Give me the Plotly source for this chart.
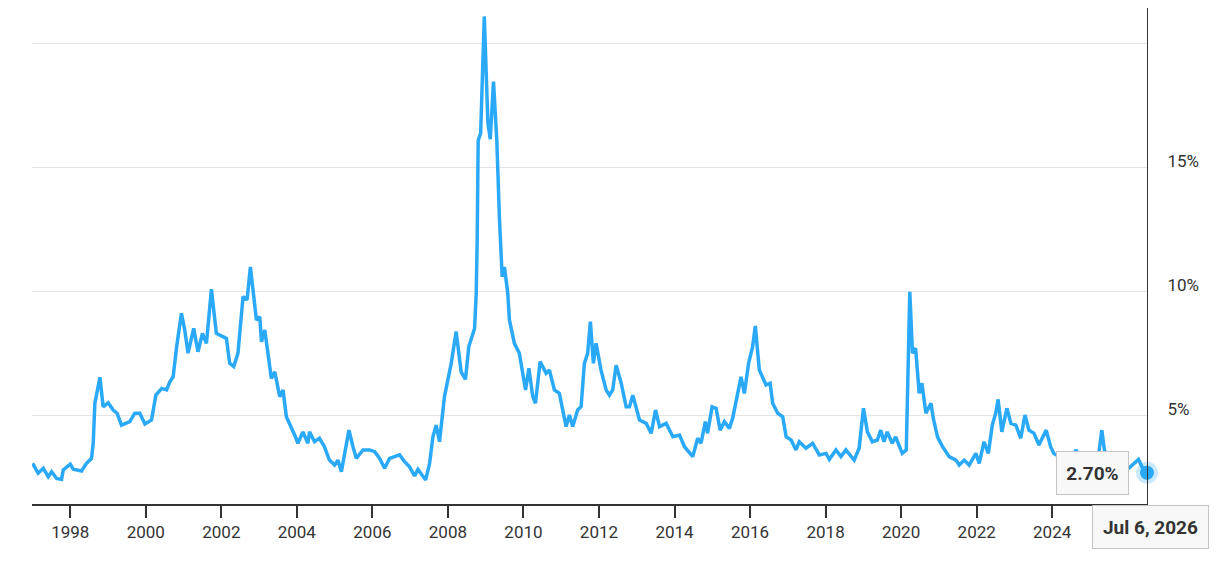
import plotly.graph_objects as go

dates = [
    "1997-01-03", "1997-02-24", "1997-04-15", "1997-06-02", "1997-07-05", "1997-08-22", "1997-10-09", "1997-10-25",
    "1998-01-01", "1998-01-30", "1998-04-20", "1998-06-07", "1998-07-26", "1998-08-11", "1998-08-27", "1998-10-15",
    "1998-11-15", "1999-01-03", "1999-02-20", "1999-03-30", "1999-05-11", "1999-07-31", "1999-09-17", "1999-11-04",
    "1999-12-24", "2000-02-26", "2000-04-08", "2000-06-03", "2000-07-20", "2000-08-21", "2000-09-22", "2000-10-24",
    "2000-12-11", "2001-01-12", "2001-02-13", "2001-04-09", "2001-05-20", "2001-07-02", "2001-08-10", "2001-09-27",
    "2001-11-14", "2002-02-19", "2002-03-23", "2002-05-01", "2002-06-11", "2002-07-04", "2002-07-30", "2002-09-07",
    "2002-10-09", "2002-12-06", "2003-01-08", "2003-01-24", "2003-02-25", "2003-04-30", "2003-06-02", "2003-07-20",
    "2003-08-21", "2003-09-22", "2003-10-24", "2003-12-11", "2004-01-12", "2004-02-29", "2004-04-17", "2004-05-03",
    "2004-06-20", "2004-08-07", "2004-09-24", "2004-11-11", "2005-01-01", "2005-02-02", "2005-03-07", "2005-05-19",
    "2005-06-27", "2005-07-29", "2005-10-02", "2005-12-05", "2006-01-23", "2006-03-12", "2006-04-29", "2006-06-16",
    "2006-09-21", "2006-11-08", "2006-12-26", "2007-02-13", "2007-03-17", "2007-05-31", "2007-07-08", "2007-08-09",
    "2007-09-10", "2007-10-12", "2007-11-29", "2008-02-02", "2008-03-21", "2008-05-08", "2008-06-19", "2008-07-21",
    "2008-09-15", "2008-10-01", "2008-10-10", "2008-10-20", "2008-11-13", "2008-12-18", "2009-01-22", "2009-02-14",
    "2009-03-17", "2009-04-18", "2009-05-14", "2009-06-09", "2009-07-01", "2009-08-02", "2009-08-18", "2009-10-05",
    "2009-11-22", "2010-01-21", "2010-02-22", "2010-04-01", "2010-04-27", "2010-06-11", "2010-08-08", "2010-09-09",
    "2010-10-27", "2010-12-14", "2011-02-17", "2011-03-21", "2011-04-22", "2011-06-09", "2011-07-12", "2011-08-13",
    "2011-09-14", "2011-10-10", "2011-11-08", "2011-12-04", "2012-01-21", "2012-03-10", "2012-04-11", "2012-05-13",
    "2012-06-15", "2012-08-03", "2012-09-20", "2012-10-22", "2012-11-23", "2013-01-27", "2013-04-02", "2013-05-20",
    "2013-07-01", "2013-08-09", "2013-10-12", "2013-12-16", "2014-02-18", "2014-04-07", "2014-06-26", "2014-08-13",
    "2014-09-14", "2014-10-26", "2014-11-17", "2014-12-30", "2015-02-07", "2015-03-18", "2015-04-28", "2015-06-15",
    "2015-07-17", "2015-09-03", "2015-10-06", "2015-11-07", "2015-12-18", "2016-01-26", "2016-02-21", "2016-03-31",
    "2016-06-04", "2016-07-13", "2016-08-07", "2016-09-25", "2016-11-12", "2016-12-15", "2017-02-01", "2017-03-20",
    "2017-04-21", "2017-06-25", "2017-08-28", "2017-11-01", "2018-01-05", "2018-02-06", "2018-04-11", "2018-05-29",
    "2018-07-16", "2018-10-04", "2018-11-21", "2019-01-02", "2019-02-09", "2019-03-29", "2019-05-16", "2019-06-18",
    "2019-07-19", "2019-08-20", "2019-10-07", "2019-11-09", "2020-01-12", "2020-02-20", "2020-03-25", "2020-04-20",
    "2020-05-20", "2020-06-24", "2020-07-20", "2020-08-28", "2020-10-16", "2020-11-07", "2020-12-18", "2021-02-05",
    "2021-04-10", "2021-06-14", "2021-07-16", "2021-09-02", "2021-10-20", "2021-12-24", "2022-01-25", "2022-03-13",
    "2022-04-23", "2022-06-01", "2022-07-04", "2022-07-27", "2022-09-01", "2022-10-20", "2022-11-28", "2023-01-15",
    "2023-03-03", "2023-04-13", "2023-05-21", "2023-07-09", "2023-08-26", "2023-11-04", "2023-12-17", "2024-01-17",
    "2024-04-01", "2024-06-15", "2024-08-20", "2024-10-15", "2025-01-10", "2025-03-15", "2025-04-25", "2025-05-20",
    "2025-07-15", "2025-10-15", "2026-01-15", "2026-04-15", "2026-05-18", "2026-07-06",
]

spread_pct = [
    3.08, 2.68, 2.88, 2.54, 2.74, 2.47, 2.43, 2.81,
    3.05, 2.84, 2.77, 3.08, 3.28, 3.89, 5.50, 6.55,
    5.36, 5.52, 5.23, 5.10, 4.62, 4.76, 5.10, 5.10,
    4.67, 4.83, 5.83, 6.10, 6.04, 6.37, 6.57, 7.72,
    9.13, 8.46, 7.52, 8.52, 7.58, 8.32, 7.92, 10.10,
    8.32, 8.12, 7.11, 6.98, 7.52, 8.73, 9.80, 9.67,
    11.00, 8.86, 8.99, 7.98, 8.46, 6.50, 6.77, 5.77,
    6.04, 4.96, 4.69, 4.22, 3.89, 4.35, 3.89, 4.35,
    3.95, 4.09, 3.75, 3.21, 3.01, 3.21, 2.74, 4.42,
    3.75, 3.28, 3.62, 3.62, 3.55, 3.28, 2.88, 3.28,
    3.42, 3.15, 2.94, 2.57, 2.84, 2.41, 3.08, 4.15,
    4.62, 3.95, 5.77, 7.11, 8.39, 6.77, 6.47, 7.78,
    8.52, 9.94, 12.00, 16.10, 16.40, 21.10, 16.80, 16.15,
    18.47, 16.10, 12.90, 10.60, 11.00, 9.94, 8.86, 7.92,
    7.52, 6.04, 6.91, 5.77, 5.50, 7.18, 6.71, 6.84,
    6.04, 5.90, 4.56, 5.03, 4.56, 5.23, 5.36, 7.11,
    7.52, 8.79, 7.11, 7.92, 6.84, 6.04, 5.83, 6.04,
    7.04, 6.31, 5.36, 5.36, 5.83, 4.83, 4.69, 4.29,
    5.23, 4.56, 4.69, 4.15, 4.22, 3.75, 3.35, 4.09,
    3.89, 4.76, 4.29, 5.36, 5.30, 4.42, 4.76, 4.49,
    4.90, 5.85, 6.57, 5.90, 7.11, 7.78, 8.62, 6.84,
    6.24, 6.31, 5.50, 5.10, 4.96, 4.15, 4.02, 3.62,
    3.95, 3.69, 3.89, 3.42, 3.48, 3.24, 3.62, 3.35,
    3.62, 3.21, 3.69, 5.30, 4.35, 3.95, 4.02, 4.42,
    3.95, 4.35, 3.89, 4.15, 3.48, 3.62, 10.00, 7.52,
    7.72, 5.90, 6.31, 5.10, 5.50, 4.90, 4.15, 3.75,
    3.35, 3.21, 3.01, 3.21, 3.01, 3.48, 3.08, 3.95,
    3.48, 4.62, 5.10, 5.66, 4.35, 5.30, 4.69, 4.62,
    4.09, 5.03, 4.42, 4.29, 3.82, 4.42, 3.75, 3.48,
    3.30, 3.20, 3.62, 3.10, 2.90, 3.10, 4.42, 3.62,
    2.95, 2.85, 2.90, 3.24, 2.94, 2.70,
]

y_ticks = [5, 10, 15, 20]
y_tick_text = ["5%", "10%", "15%", ""]
x_ticks = [f"{y}-01-01" for y in range(1998, 2026, 2)]
x_tick_text = [str(y) for y in range(1998, 2026, 2)]

last_date = dates[-1]
last_val = spread_pct[-1]
last_label = "Jul 6, 2026"

LINE = "#2AA9F9"
FONT = "Roboto, Arial, sans-serif"

fig = go.Figure()
fig.add_trace(go.Scatter(
    x=dates, y=spread_pct, mode="lines",
    line=dict(color=LINE, width=3.5), hoverinfo="skip", showlegend=False,
))
fig.add_trace(go.Scatter(
    x=[last_date], y=[last_val], mode="markers",
    marker=dict(size=22, color="rgba(42,169,249,0.25)"), hoverinfo="skip", showlegend=False,
    cliponaxis=False,
))
fig.add_trace(go.Scatter(
    x=[last_date], y=[last_val], mode="markers",
    marker=dict(size=14, color=LINE), hoverinfo="skip", showlegend=False,
    cliponaxis=False,
))

fig.update_layout(
    width=1212, height=558,
    margin=dict(l=24, r=73, t=0, b=62),
    paper_bgcolor="white", plot_bgcolor="white",
    font=dict(family=FONT, color="#333333", size=16),
    xaxis=dict(
        type="date",
        range=["1996-12-27", last_date],
        tickvals=x_ticks, ticktext=x_tick_text,
        showgrid=False, zeroline=False,
        showline=True, linecolor="#333333", linewidth=1.5,
        ticks="outside", ticklen=12, tickwidth=1.5, tickcolor="#333333",
        tickfont=dict(size=17, color="#333333"),
    ),
    yaxis=dict(
        side="right",
        range=[1.44, 21.44],
        tickvals=y_ticks, ticktext=y_tick_text,
        showgrid=True, gridcolor="#e4e4e4", gridwidth=1,
        zeroline=False,
        showline=True, linecolor="#333333", linewidth=1,
        ticks="", ticklabelstandoff=16, ticklabelshift=-7,
        tickfont=dict(size=17, color="#333333"),
    ),
    annotations=[
        dict(
            x=last_date, y=last_val, xref="x", yref="y",
            text=f"<b>{last_val:.2f}%</b>", showarrow=False,
            xanchor="right", yanchor="middle", xshift=-18,
            width=55, height=26,
            font=dict(size=19, color="#333333", family=FONT),
            bgcolor="#f8f8f8", bordercolor="#c4c4c4", borderwidth=1, borderpad=8,
        ),
        dict(
            x=last_date, y=0, xref="x", yref="paper",
            text=f"<b>{last_label}</b>", showarrow=False,
            xanchor="center", yanchor="top", yshift=-1, xshift=3,
            width=99, height=26,
            font=dict(size=19, color="#333333", family=FONT),
            bgcolor="#f8f8f8", bordercolor="#c4c4c4", borderwidth=1, borderpad=8,
        ),
    ],
)

fig.write_html("out.html")
